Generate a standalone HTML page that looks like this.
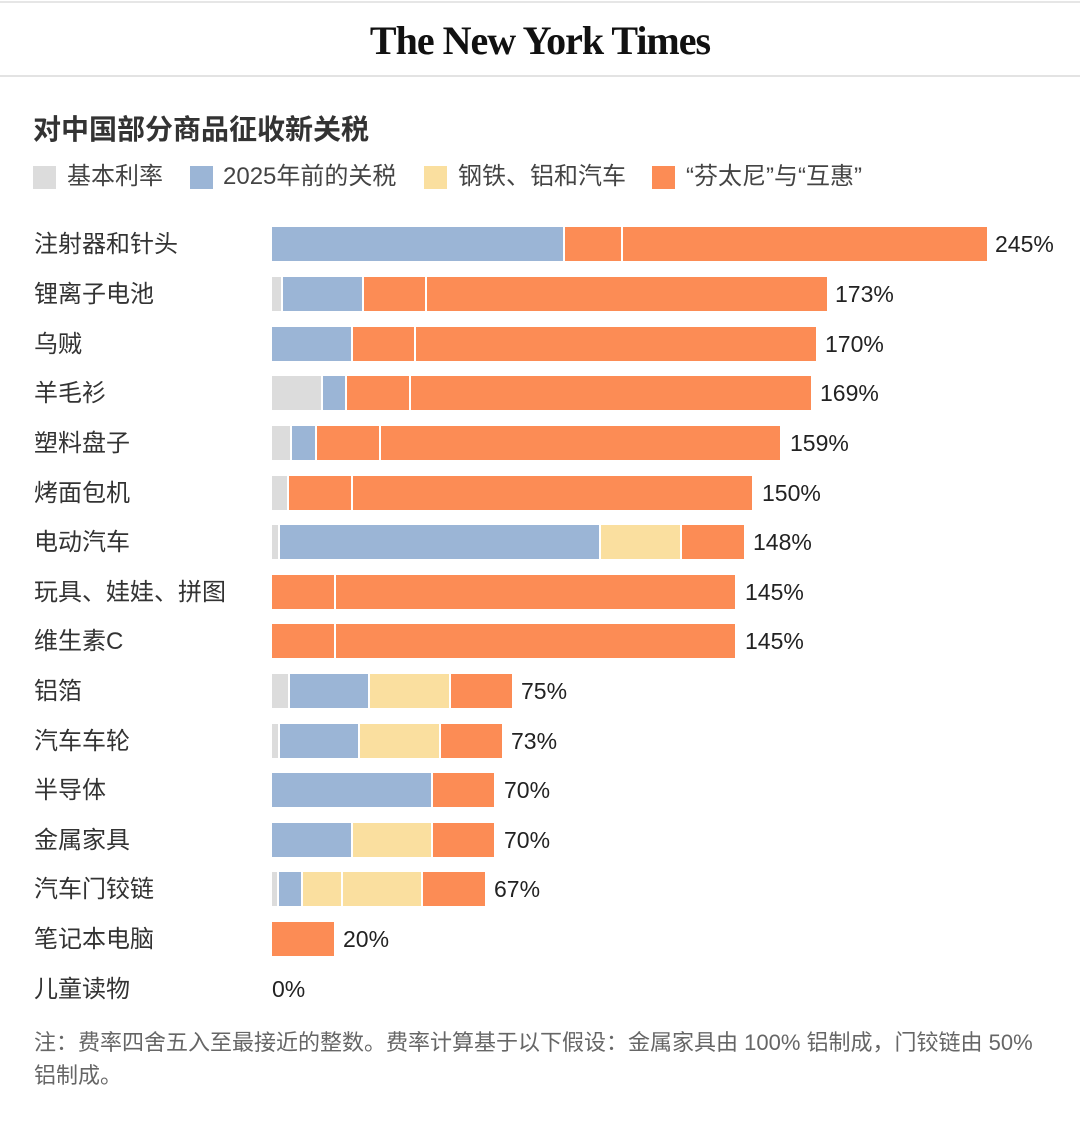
<!DOCTYPE html>
<html><head><meta charset="utf-8"><style>
body{margin:0;width:1080px;height:1130px;background:#fff;position:relative;overflow:hidden;font-family:"Liberation Sans","Noto Sans CJK SC",sans-serif;color:#333}
.a{position:absolute}
.b{position:absolute;height:34px}
.g{background:#dcdcdc}.u{background:#9bb5d6}.y{background:#fadf9f}.o{background:#fc8c55}
.l{position:absolute;left:34px;font-size:24px;line-height:30px;color:#333}
.v{position:absolute;font-size:23px;line-height:30px;color:#222}
.sw{position:absolute;width:23px;height:23px;top:166px}
.lg{position:absolute;top:162px;font-size:24px;line-height:30px;color:#444}
</style></head><body>
<div class="a" style="left:0;top:1px;width:1080px;height:2px;background:#e6e6e6"></div>
<div class="a" style="left:0;top:18px;width:1080px;text-align:center;font-family:'Liberation Serif','Noto Serif CJK SC',serif;font-weight:bold;font-size:40px;line-height:46px;color:#111;letter-spacing:-1px">The New York Times</div>
<div class="a" style="left:0;top:75px;width:1080px;height:2px;background:#e3e3e3"></div>
<div class="a" style="left:33px;top:112px;font-size:28px;font-weight:bold;line-height:36px;color:#333">对中国部分商品征收新关税</div>
<div class="sw g" style="left:33px"></div><div class="lg" style="left:67px">基本利率</div>
<div class="sw u" style="left:190px"></div><div class="lg" style="left:223px">2025年前的关税</div>
<div class="sw y" style="left:424px"></div><div class="lg" style="left:458px">钢铁、铝和汽车</div>
<div class="sw o" style="left:652px"></div><div class="lg" style="left:686px">“芬太尼”与“互惠”</div>

<div class="l" style="top:230px">注射器和针头</div>
<div class="b u" style="left:272px;top:227px;width:291px"></div><div class="b o" style="left:565px;top:227px;width:56px"></div><div class="b o" style="left:623px;top:227px;width:364px"></div><div class="v" style="left:995px;top:229px">245%</div>

<div class="l" style="top:280px">锂离子电池</div>
<div class="b g" style="left:272px;top:277px;width:9px"></div><div class="b u" style="left:283px;top:277px;width:79px"></div><div class="b o" style="left:364px;top:277px;width:61px"></div><div class="b o" style="left:427px;top:277px;width:400px"></div><div class="v" style="left:835px;top:279px">173%</div>

<div class="l" style="top:330px">乌贼</div>
<div class="b u" style="left:272px;top:327px;width:79px"></div><div class="b o" style="left:353px;top:327px;width:61px"></div><div class="b o" style="left:416px;top:327px;width:400px"></div><div class="v" style="left:825px;top:329px">170%</div>

<div class="l" style="top:379px">羊毛衫</div>
<div class="b g" style="left:272px;top:376px;width:49px"></div><div class="b u" style="left:323px;top:376px;width:22px"></div><div class="b o" style="left:347px;top:376px;width:62px"></div><div class="b o" style="left:411px;top:376px;width:400px"></div><div class="v" style="left:820px;top:378px">169%</div>

<div class="l" style="top:429px">塑料盘子</div>
<div class="b g" style="left:272px;top:426px;width:18px"></div><div class="b u" style="left:292px;top:426px;width:23px"></div><div class="b o" style="left:317px;top:426px;width:62px"></div><div class="b o" style="left:381px;top:426px;width:399px"></div><div class="v" style="left:790px;top:428px">159%</div>

<div class="l" style="top:479px">烤面包机</div>
<div class="b g" style="left:272px;top:476px;width:15px"></div><div class="b o" style="left:289px;top:476px;width:62px"></div><div class="b o" style="left:353px;top:476px;width:399px"></div><div class="v" style="left:762px;top:478px">150%</div>

<div class="l" style="top:528px">电动汽车</div>
<div class="b g" style="left:272px;top:525px;width:6px"></div><div class="b u" style="left:280px;top:525px;width:319px"></div><div class="b y" style="left:601px;top:525px;width:79px"></div><div class="b o" style="left:682px;top:525px;width:62px"></div><div class="v" style="left:753px;top:527px">148%</div>

<div class="l" style="top:578px">玩具、娃娃、拼图</div>
<div class="b o" style="left:272px;top:575px;width:62px"></div><div class="b o" style="left:336px;top:575px;width:399px"></div><div class="v" style="left:745px;top:577px">145%</div>

<div class="l" style="top:627px">维生素C</div>
<div class="b o" style="left:272px;top:624px;width:62px"></div><div class="b o" style="left:336px;top:624px;width:399px"></div><div class="v" style="left:745px;top:626px">145%</div>

<div class="l" style="top:677px">铝箔</div>
<div class="b g" style="left:272px;top:674px;width:16px"></div><div class="b u" style="left:290px;top:674px;width:78px"></div><div class="b y" style="left:370px;top:674px;width:79px"></div><div class="b o" style="left:451px;top:674px;width:61px"></div><div class="v" style="left:521px;top:676px">75%</div>

<div class="l" style="top:727px">汽车车轮</div>
<div class="b g" style="left:272px;top:724px;width:6px"></div><div class="b u" style="left:280px;top:724px;width:78px"></div><div class="b y" style="left:360px;top:724px;width:79px"></div><div class="b o" style="left:441px;top:724px;width:61px"></div><div class="v" style="left:511px;top:726px">73%</div>

<div class="l" style="top:776px">半导体</div>
<div class="b u" style="left:272px;top:773px;width:159px"></div><div class="b o" style="left:433px;top:773px;width:61px"></div><div class="v" style="left:504px;top:775px">70%</div>

<div class="l" style="top:826px">金属家具</div>
<div class="b u" style="left:272px;top:823px;width:79px"></div><div class="b y" style="left:353px;top:823px;width:78px"></div><div class="b o" style="left:433px;top:823px;width:61px"></div><div class="v" style="left:504px;top:825px">70%</div>

<div class="l" style="top:875px">汽车门铰链</div>
<div class="b g" style="left:272px;top:872px;width:5px"></div><div class="b u" style="left:279px;top:872px;width:22px"></div><div class="b y" style="left:303px;top:872px;width:38px"></div><div class="b y" style="left:343px;top:872px;width:78px"></div><div class="b o" style="left:423px;top:872px;width:62px"></div><div class="v" style="left:494px;top:874px">67%</div>

<div class="l" style="top:925px">笔记本电脑</div>
<div class="b o" style="left:272px;top:922px;width:62px"></div><div class="v" style="left:343px;top:924px">20%</div>

<div class="l" style="top:975px">儿童读物</div>
<div class="v" style="left:272px;top:974px">0%</div>

<div class="a" style="left:34px;top:1026px;width:1040px;font-size:22px;line-height:33px;color:#666;white-space:nowrap">注：费率四舍五入至最接近的整数。费率计算基于以下假设：金属家具由 100% 铝制成，门铰链由 50%<br>铝制成。</div>
</body></html>
